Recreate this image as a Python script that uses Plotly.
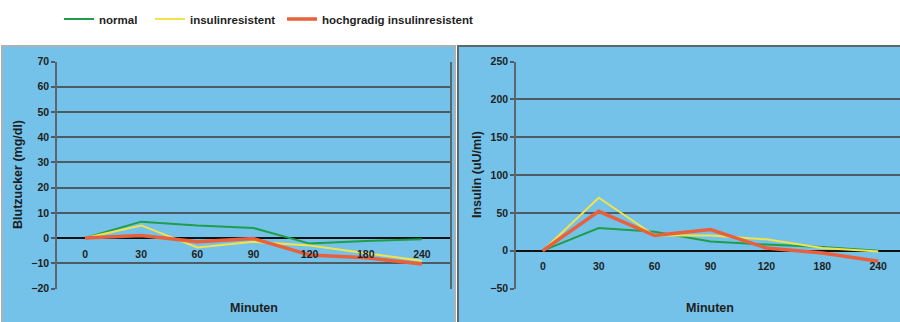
import plotly.graph_objects as go

# ---- data ----
minutes = ["0", "30", "60", "90", "120", "180", "240"]
series_names = ["normal", "insulinresistent", "hochgradig insulinresistent"]

glucose_normal = [0, 6.5, 5, 4, -2.2, -1.2, -0.5]
glucose_ir = [0, 5, -3.7, -1.5, -3, -6, -9]
glucose_high_ir = [0, 1, -1.5, -0.2, -6.7, -7.8, -10.3]

insulin_normal = [0, 30, 25, 12, 8, 5, 0]
insulin_ir = [0, 70, 20, 20, 15, 3.5, -1]
insulin_high_ir = [0, 52, 20, 28, 3.5, -3, -14]

glucose_ticks = [-20, -10, 0, 10, 20, 30, 40, 50, 60, 70]
insulin_ticks = [-50, 0, 50, 100, 150, 200, 250]

# ---- style ----
W, H = 900, 322
BLUE = "rgb(116,194,233)"
GRID = "#4f5b63"
TXT = "#1e1e1e"
colors = ["#1f9e4a", "#f3e24a", "#e8603c"]
widths = [2, 2, 3.5]
FONT = "Liberation Sans, Arial, sans-serif"


def px(x):
    return x / W


def py(y):
    return 1 - y / H


left_dom_x = [px(57), px(450)]
right_dom_x = [px(516), 1.0]
dom_y = [py(288.5), py(61.5)]
g_range = [-20, 70]
i_range = [-50, 250]
LABEL_SHIFT = -8 / H  # category label row sits a little below the zero line


def zero_pos(rng):
    return dom_y[0] + (0 - rng[0]) / (rng[1] - rng[0]) * (dom_y[1] - dom_y[0]) + LABEL_SHIFT


fig = go.Figure()

glucose = [glucose_normal, glucose_ir, glucose_high_ir]
insulin = [insulin_normal, insulin_ir, insulin_high_ir]
legends = ["legend", "legend2", "legend3"]

for i in range(3):
    fig.add_trace(go.Scatter(
        x=minutes, y=glucose[i], mode="lines", name=series_names[i],
        line=dict(color=colors[i], width=widths[i]),
        xaxis="x", yaxis="y", legend=legends[i], showlegend=True))
for i in range(3):
    fig.add_trace(go.Scatter(
        x=minutes, y=insulin[i], mode="lines", name=series_names[i],
        line=dict(color=colors[i], width=widths[i]),
        xaxis="x2", yaxis="y2", showlegend=False))

tickfont = dict(family=FONT, size=10.5, color=TXT, weight="bold")

xcommon = dict(type="category", categoryorder="array", categoryarray=minutes,
               showgrid=False, zeroline=False, showline=False,
               ticks="", tickfont=tickfont, fixedrange=True)
ycommon = dict(showgrid=True, gridcolor=GRID, gridwidth=1.5,
               zeroline=True, zerolinecolor="#111111", zerolinewidth=2,
               showline=True, linecolor="#5a6670", linewidth=1.5, mirror=True,
               ticks="outside", ticklen=4, tickcolor=GRID, tickwidth=1.5,
               tickfont=tickfont, fixedrange=True)

fig.update_layout(
    width=W, height=H,
    margin=dict(l=0, r=0, t=0, b=0, autoexpand=False),
    paper_bgcolor="white",
    plot_bgcolor="rgba(0,0,0,0)",
    font=dict(family=FONT, color=TXT),
    xaxis=dict(domain=left_dom_x, range=[-0.5, 6.5], anchor="free",
               position=zero_pos(g_range), **xcommon),
    yaxis=dict(domain=dom_y, range=g_range, tickvals=glucose_ticks,
               anchor="x", **ycommon),
    xaxis2=dict(domain=right_dom_x, range=[-0.48, 6.39], anchor="free",
                position=zero_pos(i_range), **xcommon),
    yaxis2=dict(domain=dom_y, range=i_range, tickvals=insulin_ticks,
                anchor="x2", **ycommon),
)

legfont = dict(family=FONT, size=11.5, color=TXT, weight="bold")
leg_x = [64, 155, 287]
for name, lx in zip(legends, leg_x):
    fig.update_layout({name: dict(x=px(lx - 5), y=py(19), xanchor="left", yanchor="middle",
                                  orientation="h", bgcolor="rgba(0,0,0,0)",
                                  font=legfont, itemwidth=30,
                                  borderwidth=0)})

# panel backgrounds
fig.add_shape(type="rect", xref="paper", yref="paper",
              x0=px(2), x1=px(455), y0=py(330), y1=py(46),
              fillcolor=BLUE, line=dict(color="#a9b3b8", width=2), layer="below")
fig.add_shape(type="rect", xref="paper", yref="paper",
              x0=px(458), x1=px(905), y0=py(330), y1=py(46),
              fillcolor=BLUE, line=dict(color="#5d666b", width=2), layer="below")

# axis titles
titfont = dict(family=FONT, size=12.5, color=TXT, weight="bold")
for txt, x, y, ang in [("Blutzucker (mg/dl)", 18, 175, -90),
                       ("Insulin (uU/ml)", 477, 175, -90),
                       ("Minuten", 254, 308, 0),
                       ("Minuten", 710, 308, 0)]:
    fig.add_annotation(text=txt, xref="paper", yref="paper", x=px(x), y=py(y),
                       xanchor="center", yanchor="middle", textangle=ang,
                       showarrow=False, font=titfont)

fig.write_html("out.html", config={"displayModeBar": False},
               post_script="document.body.style.margin='0';")
